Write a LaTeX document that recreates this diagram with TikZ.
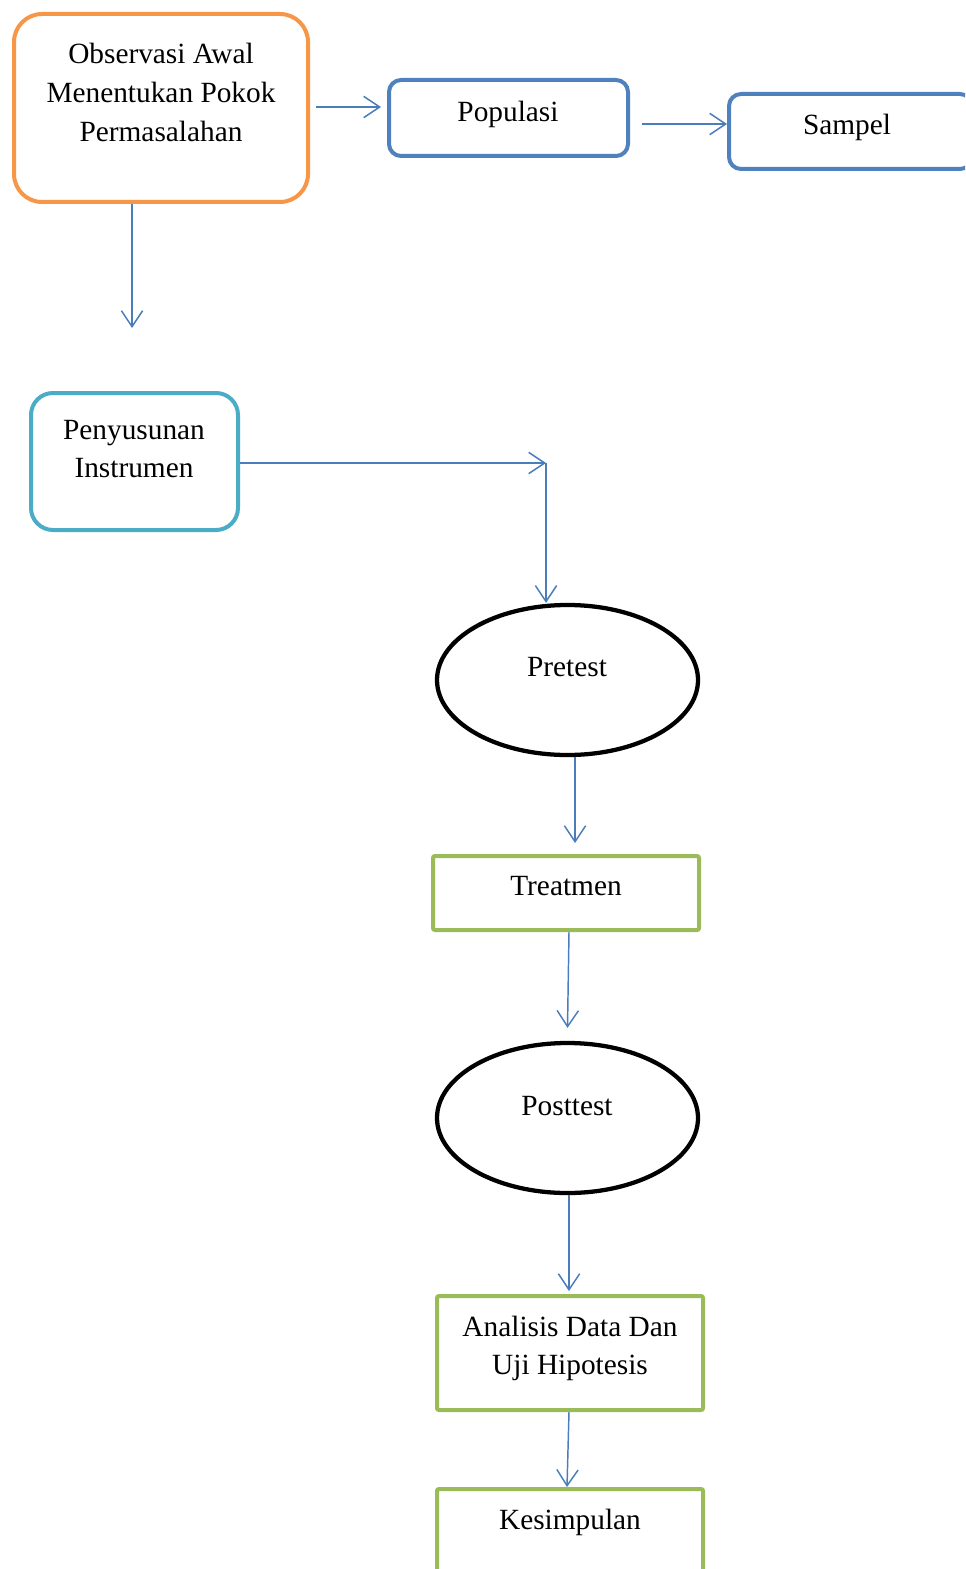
\documentclass[tikz,border=0pt]{standalone}
\usepackage{fontspec}
\setmainfont{Liberation Serif}
\usetikzlibrary{arrows.meta,shapes.geometric}
\definecolor{obsorange}{HTML}{F79646}
\definecolor{boxblue}{HTML}{4F81BD}
\definecolor{boxcyan}{HTML}{4BACC6}
\definecolor{boxgreen}{HTML}{9BBB59}
\definecolor{arrblue}{HTML}{4A7EBB}
\tikzset{
  rbox/.style={draw, line width=3pt, fill=white, inner sep=0pt},
  gbox/.style={draw=boxgreen, line width=3pt, rounded corners=1.5pt, inner sep=0pt},
  oval/.style={ellipse, draw=black, line width=3.2pt, inner sep=0pt, minimum width=195.75pt, minimum height=112.5pt},
  txt/.style={font=\fontsize{22}{29}\selectfont, align=center, inner sep=0pt, anchor=base},
  arr/.style={draw=arrblue, line width=1.1pt, -{Straight Barb[length=12pt,width=16pt,line width=1.1pt]}}
}
\begin{document}
\begin{tikzpicture}[x=0.75pt,y=-0.75pt]
\useasboundingbox (0,0) rectangle (965,1569);
\clip (0,0) rectangle (965,1569);
% boxes
\node[rbox, draw=obsorange, rounded corners=21pt, minimum width=220.5pt, minimum height=141pt] (obs) at (161,108) {};
\node[rbox, draw=boxblue, rounded corners=9pt, minimum width=179.25pt, minimum height=57pt] (pop) at (508.5,118) {};
\node[rbox, draw=boxblue, rounded corners=9pt, minimum width=182.25pt, minimum height=56.25pt] (samp) at (850.5,131.5) {};
\node[rbox, draw=boxcyan, rounded corners=16.5pt, minimum width=155.25pt, minimum height=102.75pt] (pen) at (134.5,461.5) {};
\node[oval] (pre) at (567.5,680) {};
\node[gbox, minimum width=199.5pt, minimum height=55.5pt] (treat) at (566,893) {};
\node[oval] (post) at (567.5,1118) {};
\node[gbox, minimum width=199.5pt, minimum height=85.5pt] (anal) at (570,1353) {};
\node[gbox, minimum width=199.5pt, minimum height=83.25pt] (kes) at (570,1544.5) {};
% texts
\node[txt] (tobs1) at (161,64) {Observasi Awal};
\node[txt] (tobs2) at (161,103) {Menentukan Pokok};
\node[txt] (tobs3) at (161,142) {Permasalahan};
\node[txt] (tpop) at (508,122) {Populasi};
\node[txt] (tsamp) at (847,135) {Sampel};
\node[txt] (tpen1) at (134,439) {Penyusunan};
\node[txt] (tpen2) at (134,477) {Instrumen};
\node[txt] (tpre) at (567,676) {Pretest};
\node[txt] (ttreat) at (566,895) {Treatmen};
\node[txt] (tpost) at (567,1115) {Posttest};
\node[txt] (tanal1) at (570,1336) {Analisis Data Dan};
\node[txt] (tanal2) at (570,1374) {Uji Hipotesis};
\node[txt] (tkes) at (570,1529) {Kesimpulan};
% connectors
\coordinate (obsdown) at (132,328);
\coordinate (corner) at (546,463);
\draw[arr] ([shift={(6,-1)}]obs.east) -- ([shift={(-6,-11)}]pop.west);
\draw[arr] ([shift={(12,6)}]pop.east) -- ([shift={(0,-7.5)}]samp.west);
\draw[arr] ([shift={(-29,0)}]obs.south) -- (obsdown);
\draw[arr] ([shift={(0,1.5)}]pen.east) -- (corner);
\draw[arr] (corner) -- (pre.north -| corner);
\draw[arr] ([shift={(7.5,0)}]pre.south) -- ([shift={(9,-11)}]treat.north);
\draw[arr] ([shift={(3,0)}]treat.south) -- ([shift={(0,-13)}]post.north);
\draw[arr] ([shift={(1.5,0)}]post.south) -- ([shift={(-1,-3)}]anal.north);
\draw[arr] ([shift={(-1,0)}]anal.south) -- ([shift={(-3,0)}]kes.north);
\end{tikzpicture}
\end{document}
